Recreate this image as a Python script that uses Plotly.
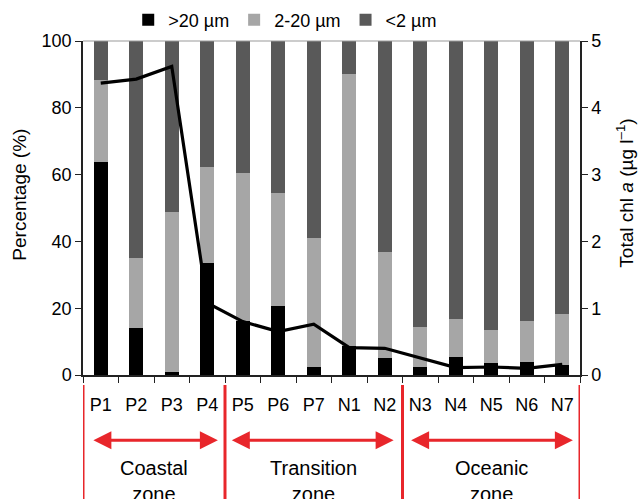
import plotly.graph_objects as go

stations = ["P1", "P2", "P3", "P4", "P5", "P6", "P7", "N1", "N2", "N3", "N4", "N5", "N6", "N7"]
pct_gt20 = [63.7, 14.2, 1.0, 33.6, 16.2, 20.8, 2.5, 8.7, 5.1, 2.5, 5.5, 3.5, 4.0, 3.0]
pct_2_20 = [24.6, 20.9, 47.7, 28.7, 44.2, 33.6, 38.6, 81.3, 31.6, 11.9, 11.4, 10.0, 12.2, 15.2]
pct_lt2 = [100 - a - b for a, b in zip(pct_gt20, pct_2_20)]
total_chl = [4.37, 4.43, 4.62, 1.08, 0.80, 0.65, 0.76, 0.41, 0.40, 0.25, 0.11, 0.12, 0.10, 0.16]

zones = ["Coastal<br>zone", "Transition<br>zone", "Oceanic<br>zone"]
zone_bounds = [-0.5, 3.5, 8.5, 13.5]

FONT = "Liberation Sans, Arial, sans-serif"

fig = go.Figure()
fig.add_trace(go.Bar(x=stations, y=pct_gt20, name=">20 µm", marker=dict(color="#000000", line=dict(width=0))))
fig.add_trace(go.Bar(x=stations, y=pct_2_20, name="2-20 µm", marker=dict(color="#a6a6a6", line=dict(width=0))))
fig.add_trace(go.Bar(x=stations, y=pct_lt2, name="<2 µm", marker=dict(color="#595959", line=dict(width=0))))
fig.add_trace(go.Scatter(x=stations, y=total_chl, yaxis="y2", mode="lines",
                         line=dict(color="#000000", width=3.2), showlegend=False))

shapes = []
for b in zone_bounds:
    shapes.append(dict(type="line", xref="x", yref="paper", x0=b, x1=b, y0=-0.03, y1=-0.45,
                       line=dict(color="#e8262b", width=3)))
# top border
shapes.append(dict(type="line", xref="paper", yref="paper", x0=0, x1=1, y0=1, y1=1,
                   line=dict(color="#999999", width=1)))

annotations = []
arrow_spans = [(-0.25, 3.3), (3.65, 8.25), (8.7, 13.3)]
for (a0, a1) in arrow_spans:
    annotations.append(dict(xref="x", yref="paper", x=a1, y=-0.195, axref="x", ayref="pixel",
                            ax=a0, ay=0, text="", showarrow=True, arrowside="end+start",
                            arrowhead=2, arrowsize=1.2, arrowwidth=3, arrowcolor="#e8262b"))
for i, z in enumerate(zones):
    c = (zone_bounds[i] + zone_bounds[i + 1]) / 2
    annotations.append(dict(xref="x", yref="paper", x=c, y=-0.24, yanchor="top", text=z,
                            showarrow=False, font=dict(family=FONT, size=20, color="#000")))
# axis titles
annotations.append(dict(xref="paper", yref="paper", x=-63 / 497, y=0.54, xanchor="center", yanchor="middle",
                        text="Percentage (%)", textangle=-90, showarrow=False,
                        font=dict(family=FONT, size=19, color="#000")))
annotations.append(dict(xref="paper", yref="paper", x=1 + 45 / 497, y=0.543, xanchor="center", yanchor="middle",
                        text="Total chl <i>a</i> (µg l<sup>–1</sup>)", textangle=-90, showarrow=False,
                        font=dict(family=FONT, size=19, color="#000")))

fig.update_layout(
    width=638, height=499,
    margin=dict(l=83, r=58, t=41, b=124, autoexpand=False),
    paper_bgcolor="white", plot_bgcolor="white",
    barmode="stack", bargap=0.6,
    font=dict(family=FONT, size=16, color="#000"),
    legend=dict(orientation="h", x=0.091, xanchor="left", y=1.063, yanchor="middle",
                font=dict(size=18), traceorder="normal", itemwidth=30,
                bgcolor="rgba(0,0,0,0)"),
    xaxis=dict(type="category", showline=True, linecolor="#222", linewidth=1.5,
               ticks="outside", tickson="boundaries", ticklen=6, tickcolor="#222",
               tickfont=dict(size=18), ticklabelstandoff=13, showgrid=False, zeroline=False,
               range=[-0.5, 13.5]),
    yaxis=dict(range=[0, 100], dtick=20, showline=True, linecolor="#222", linewidth=1.5,
               ticks="outside", ticklen=6, tickcolor="#222", showgrid=False, zeroline=False,
               tickfont=dict(size=18)),
    yaxis2=dict(range=[0, 5], dtick=1, overlaying="y", side="right", showline=True,
                linecolor="#222", linewidth=1.5, ticks="outside", ticklen=6, tickcolor="#222",
                showgrid=False, zeroline=False, tickfont=dict(size=18)),
    shapes=shapes, annotations=annotations,
)

fig.write_html("out.html", config={"displayModeBar": False},
               post_script="document.body.style.margin='0';document.body.style.overflow='hidden';")
